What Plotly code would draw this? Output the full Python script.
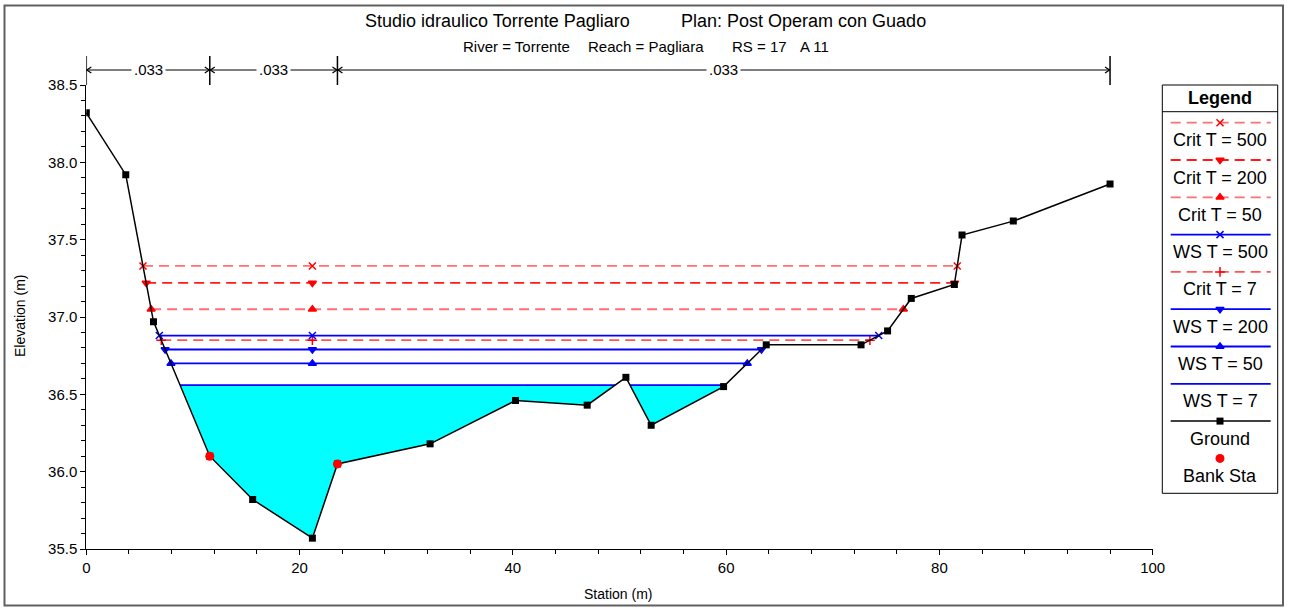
import numpy as np
import plotly.graph_objects as go

W, H = 1289, 608

# ground cross section
station = [0.0, 3.7, 6.3, 11.58, 15.6, 21.2, 23.55, 32.24, 40.25, 46.97, 50.6,
           52.97, 59.76, 63.76, 72.65, 75.14, 77.36, 81.4, 82.12, 86.93, 96.0]
elevation = [38.32, 37.92, 36.97, 36.10, 35.82, 35.57, 36.05, 36.18, 36.46, 36.43, 36.61,
             36.30, 36.55, 36.82, 36.82, 36.91, 37.12, 37.21, 37.53, 37.62, 37.86]
bank_sta = [11.58, 23.55]
mann_n = [".033", ".033", ".033"]

# water surface / critical levels, in legend order
profiles = ["Crit T = 500", "Crit T = 200", "Crit T = 50", "WS T = 500",
            "Crit T = 7", "WS T = 200", "WS T = 50", "WS T = 7"]
levels = [37.33, 37.22, 37.05, 36.88, 36.85, 36.79, 36.70, 36.56]

x_ticks = [0, 20, 40, 60, 80, 100]
y_ticks = [35.5, 36.0, 36.5, 37.0, 37.5, 38.0, 38.5]

FONT = "Liberation Sans, Arial, sans-serif"
RED_L = "#FF7070"
RED = "#FF1A1A"
BLUE = "#0000FF"
DASH = "10px,6px"

style = {
    "Crit T = 500": dict(lc=RED_L, dash=DASH, sym="x-thin-open", mc="#FF0000"),
    "Crit T = 200": dict(lc=RED, dash=DASH, sym="triangle-down", mc="#FF0000"),
    "Crit T = 50": dict(lc=RED_L, dash=DASH, sym="triangle-up", mc="#FF0000"),
    "WS T = 500": dict(lc=BLUE, dash="solid", sym="x-thin-open", mc=BLUE),
    "Crit T = 7": dict(lc="#FF5555", dash=DASH, sym="cross-thin-open", mc="#FF0000"),
    "WS T = 200": dict(lc=BLUE, dash="solid", sym="triangle-down", mc=BLUE),
    "WS T = 50": dict(lc=BLUE, dash="solid", sym="triangle-up", mc=BLUE),
    "WS T = 7": dict(lc=BLUE, dash="solid", sym=None, mc=BLUE),
}

# plot area in pixels
PL, PR, PT, PB = 86.3, 1152.7, 85, 549


def px(x):
    return x / W


def py(y):
    return 1 - y / H


def wet_spans(level):
    cuts = []
    for i in range(len(station) - 1):
        x0, x1 = station[i], station[i + 1]
        y0, y1 = elevation[i], elevation[i + 1]
        if (y0 - level) * (y1 - level) < 0:
            cuts.append(x0 + (level - y0) / (y1 - y0) * (x1 - x0))
    return list(zip(cuts[0::2], cuts[1::2]))


thalweg = station[int(np.argmin(elevation))]

fig = go.Figure()

# water fill for the lowest profile
ws7 = levels[profiles.index("WS T = 7")]
for a, b in wet_spans(ws7):
    inner = [(s, e) for s, e in zip(station, elevation) if a < s < b]
    fx = [a] + [s for s, _ in inner] + [b]
    fy = [ws7] + [e for _, e in inner] + [ws7]
    fig.add_trace(go.Scatter(x=fx, y=fy, mode="lines", fill="toself",
                             fillcolor="#00FFFF", line=dict(width=0),
                             hoverinfo="skip", showlegend=False))

# profile lines, lowest first
for name, lvl in reversed(list(zip(profiles, levels))):
    st = style[name]
    spans = wet_spans(lvl)
    lx, ly = [], []
    for a, b in spans:
        lx += [a, b, None]
        ly += [lvl, lvl, None]
    fig.add_trace(go.Scatter(x=lx, y=ly, mode="lines", name=name,
                             line=dict(color=st["lc"], width=1.8, dash=st["dash"]),
                             showlegend=False))
    if st["sym"]:
        mx = [spans[0][0], thalweg, spans[-1][1]]
        fig.add_trace(go.Scatter(x=mx, y=[lvl] * 3, mode="markers", showlegend=False,
                                 marker=dict(symbol=st["sym"], size=7, color=st["mc"],
                                             line=dict(color=st["mc"], width=1.5))))

fig.add_trace(go.Scatter(x=station, y=elevation, mode="lines+markers", name="Ground",
                         line=dict(color="black", width=1.5),
                         marker=dict(symbol="square", size=7, color="black"),
                         showlegend=False))
fig.add_trace(go.Scatter(x=bank_sta, y=np.interp(bank_sta, station, elevation),
                         mode="markers", name="Bank Sta",
                         marker=dict(symbol="circle", size=9, color="#FF0000"),
                         showlegend=False))

shapes = []
annotations = []

# Manning's n bar above the plot
bounds = [station[0]] + bank_sta + [station[-1]]
y_bar, y_top, y_bot = py(70), py(56), py(85)
for s in bounds:
    shapes.append(dict(type="line", xref="x", yref="paper", x0=s, x1=s, y0=y_bot, y1=y_top,
                       line=dict(color="black", width=1.5)))
for (a, b), n in zip(zip(bounds[:-1], bounds[1:]), mann_n):
    shapes.append(dict(type="line", xref="x", yref="paper", x0=a, x1=b, y0=y_bar, y1=y_bar,
                       line=dict(color="black", width=1)))
    shapes.append(dict(type="path", xref="x", yref="paper", xsizemode="pixel", ysizemode="pixel",
                       xanchor=a, yanchor=y_bar, path="M5,3L0.5,0L5,-3",
                       line=dict(color="black", width=1.2)))
    shapes.append(dict(type="path", xref="x", yref="paper", xsizemode="pixel", ysizemode="pixel",
                       xanchor=b, yanchor=y_bar, path="M-5,3L-0.5,0L-5,-3",
                       line=dict(color="black", width=1.2)))
    annotations.append(dict(x=(a + b) / 2, y=y_bar, xref="x", yref="paper", text=n,
                            showarrow=False, bgcolor="white", borderpad=2,
                            xanchor="center", yanchor="middle",
                            font=dict(size=15, color="black", family=FONT)))

# titles
titles = [
    dict(x=px(363), y=py(21), text="Studio idraulico Torrente Pagliaro", xanchor="left",
         font=dict(size=18)),
    dict(x=px(679), y=py(21), text="Plan: Post Operam con Guado", xanchor="left",
         font=dict(size=18)),
    dict(x=px(461), y=py(46), text="River = Torrente", xanchor="left", font=dict(size=15)),
    dict(x=px(586), y=py(46), text="Reach = Pagliara", xanchor="left", font=dict(size=15)),
    dict(x=px(730), y=py(46), text="RS = 17", xanchor="left", font=dict(size=15)),
    dict(x=px(798), y=py(46), text="A 11", xanchor="left", font=dict(size=15)),
    dict(x=px(20), y=py(316), text="Elevation (m)", textangle=-90, xanchor="center",
         font=dict(size=14)),
    dict(x=px(618), y=py(594), text="Station (m)", xanchor="center", font=dict(size=14)),
]
for a in titles:
    a.update(xref="paper", yref="paper", showarrow=False, yanchor="middle")
    a["font"].update(color="black", family=FONT)
annotations += titles

# hand-drawn legend box
LX0, LX1, LY0, LY1 = 1162.3, 1277.7, 85, 493.3
shapes.append(dict(type="rect", xref="paper", yref="paper", x0=px(LX0), x1=px(LX1),
                   y0=py(LY1), y1=py(LY0), line=dict(color="black", width=1)))
shapes.append(dict(type="line", xref="paper", yref="paper", x0=px(LX0), x1=px(LX1),
                   y0=py(111.7), y1=py(111.7), line=dict(color="black", width=1)))
annotations.append(dict(x=px((LX0 + LX1) / 2), y=py(98), xref="paper", yref="paper",
                        text="<b>Legend</b>", showarrow=False,
                        xanchor="center", yanchor="middle",
                        font=dict(size=18, color="black", family=FONT)))

legend_items = profiles + ["Ground", "Bank Sta"]
cx = (LX0 + LX1) / 2
for i, name in enumerate(legend_items):
    yl = 122.7 + 37.3 * i
    if name in style:
        st = style[name]
        fig.add_trace(go.Scatter(x=[1170.7, 1270.7], y=[yl, yl], mode="lines",
                                 xaxis="x2", yaxis="y2", showlegend=False, hoverinfo="skip",
                                 line=dict(color=st["lc"], width=1.8, dash=st["dash"])))
        if st["sym"]:
            fig.add_trace(go.Scatter(x=[cx], y=[yl], mode="markers", xaxis="x2", yaxis="y2",
                                     showlegend=False, hoverinfo="skip",
                                     marker=dict(symbol=st["sym"], size=7, color=st["mc"],
                                                 line=dict(color=st["mc"], width=1.5))))
    elif name == "Ground":
        fig.add_trace(go.Scatter(x=[1170.7, 1270.7], y=[yl, yl], mode="lines",
                                 xaxis="x2", yaxis="y2", showlegend=False, hoverinfo="skip",
                                 line=dict(color="black", width=1.5)))
        fig.add_trace(go.Scatter(x=[cx], y=[yl], mode="markers", xaxis="x2", yaxis="y2",
                                 showlegend=False, hoverinfo="skip",
                                 marker=dict(symbol="square", size=7, color="black")))
    else:
        fig.add_trace(go.Scatter(x=[cx], y=[yl], mode="markers", xaxis="x2", yaxis="y2",
                                 showlegend=False, hoverinfo="skip",
                                 marker=dict(symbol="circle", size=9, color="#FF0000")))
    annotations.append(dict(x=px(cx), y=py(yl + 17.5), xref="paper", yref="paper",
                            text=name, showarrow=False, xanchor="center", yanchor="middle",
                            font=dict(size=18, color="black", family=FONT)))

# outer frame
shapes.append(dict(type="rect", xref="paper", yref="paper", x0=px(4.5), x1=px(1283),
                   y0=py(605.5), y1=py(5.5), line=dict(color="#606060", width=2)))

axis_common = dict(showgrid=False, zeroline=False, showline=True, linecolor="black",
                   linewidth=1, ticks="outside", ticklen=5, tickcolor="black",
                   automargin=False, tickfont=dict(size=15, color="black", family=FONT))

fig.update_layout(
    template="none",
    width=W, height=H,
    margin=dict(l=0, r=0, t=0, b=0),
    paper_bgcolor="white", plot_bgcolor="rgba(0,0,0,0)",
    showlegend=False,
    font=dict(family=FONT, color="black"),
    xaxis=dict(domain=[px(PL), px(PR)], range=[0, 100], tickvals=x_ticks,
               minor=dict(dtick=4, ticks="outside", ticklen=4, tickcolor="black"),
               **axis_common),
    yaxis=dict(domain=[py(PB), py(PT)], range=[35.5, 38.5], tickvals=y_ticks,
               tickformat=".1f",
               minor=dict(dtick=0.1, ticks="outside", ticklen=4, tickcolor="black"),
               **axis_common),
    xaxis2=dict(domain=[0, 1], range=[0, W], visible=False, anchor="y2"),
    yaxis2=dict(domain=[0, 1], range=[H, 0], visible=False, anchor="x2"),
    shapes=shapes,
    annotations=annotations,
)

fig.write_html("out.html", config={"displayModeBar": False},
               post_script="document.body.style.margin='0';")
